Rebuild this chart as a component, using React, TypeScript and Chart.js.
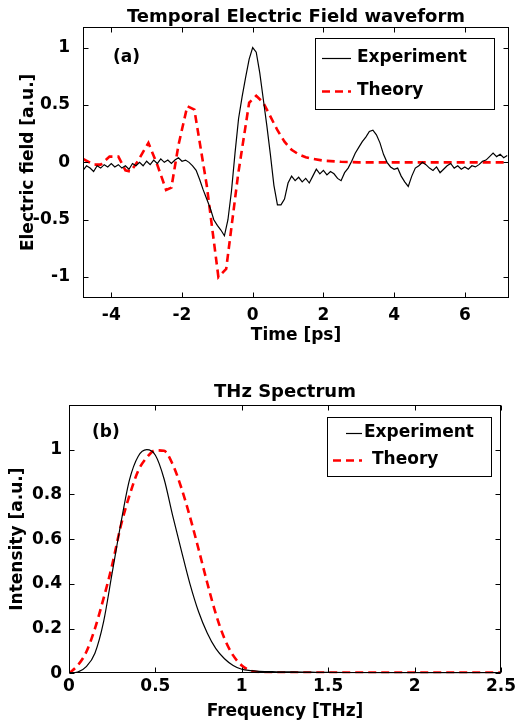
import React, { useEffect, useRef } from "react";
import { Chart, registerables } from "chart.js";

Chart.register(...registerables);

const FONT = "'DejaVu Sans', sans-serif";

// ---- Panel (a): temporal waveform ----
const timePs = [
  -4.8, -4.7, -4.6, -4.5, -4.4, -4.3, -4.2, -4.1, -4.0, -3.9,
  -3.8, -3.7, -3.6, -3.5, -3.4, -3.3, -3.2, -3.1, -3.0, -2.9,
  -2.8, -2.7, -2.6, -2.5, -2.4, -2.3, -2.2, -2.1, -2.0, -1.9,
  -1.8, -1.7, -1.6, -1.5, -1.4, -1.3, -1.2, -1.1, -1.0, -0.9,
  -0.8, -0.7, -0.6, -0.5, -0.4, -0.3, -0.2, -0.1, 0.0, 0.1,
  0.2, 0.3, 0.4, 0.5, 0.6, 0.7, 0.8, 0.9, 1.0, 1.1,
  1.2, 1.3, 1.4, 1.5, 1.6, 1.7, 1.8, 1.9, 2.0, 2.1,
  2.2, 2.3, 2.4, 2.5, 2.6, 2.7, 2.8, 2.9, 3.0, 3.1,
  3.2, 3.3, 3.4, 3.5, 3.6, 3.7, 3.8, 3.9, 4.0, 4.1,
  4.2, 4.3, 4.4, 4.5, 4.6, 4.7, 4.8, 4.9, 5.0, 5.1,
  5.2, 5.3, 5.4, 5.5, 5.6, 5.7, 5.8, 5.9, 6.0, 6.1,
  6.2, 6.3, 6.4, 6.5, 6.6, 6.7, 6.8, 6.9, 7.0, 7.1, 7.2,
];
const fieldExperiment = [
  -0.07, -0.03, -0.05, -0.08, -0.03, -0.05, -0.02, -0.04, -0.01, -0.04,
  -0.02, -0.05, -0.03, -0.06, -0.01, -0.03, 0.0, -0.03, 0.01, -0.02,
  0.02, -0.01, 0.03, 0.0, 0.02, -0.01, 0.02, 0.04, 0.01, 0.02,
  0.0, -0.03, -0.07, -0.15, -0.24, -0.32, -0.4, -0.5, -0.55, -0.59,
  -0.64, -0.5, -0.25, 0.08, 0.38, 0.57, 0.74, 0.9, 1.0, 0.96,
  0.78, 0.55, 0.32, 0.07, -0.2, -0.37, -0.37, -0.32, -0.18, -0.12,
  -0.16, -0.13, -0.17, -0.14, -0.18, -0.12, -0.06, -0.1, -0.07, -0.11,
  -0.08, -0.1, -0.14, -0.16, -0.09, -0.05, 0.01, 0.08, 0.13, 0.18,
  0.22, 0.27, 0.28, 0.24, 0.17, 0.07, 0.0, -0.04, -0.06, -0.05,
  -0.12, -0.17, -0.21, -0.12, -0.05, -0.03, 0.0, -0.02, -0.05, -0.07,
  -0.04, -0.09, -0.06, -0.03, -0.01, -0.05, -0.03, -0.06, -0.04, -0.06,
  -0.03, -0.04, -0.02, 0.01, 0.02, 0.05, 0.08, 0.05, 0.07, 0.04, 0.06,
];
const theoryTimePs = [
  -4.8, -4.5, -4.3, -4.05, -3.8, -3.6, -3.45, -3.25, -2.95, -2.7,
  -2.45, -2.3, -2.1, -1.85, -1.65, -1.3, -0.97, -0.75, -0.41, -0.1,
  0.1, 0.3, 0.5, 0.7, 0.9, 1.1, 1.3, 1.5, 1.7, 2.0,
  2.5, 3.0, 4.0, 5.0, 6.0, 7.25,
];
const fieldTheory = [
  0.03, -0.02, -0.02, 0.05, 0.05, -0.07, -0.08, 0.01, 0.17, -0.02,
  -0.24, -0.22, 0.15, 0.49, 0.46, -0.2, -1.0, -0.93, -0.1, 0.52,
  0.58, 0.52, 0.4, 0.28, 0.18, 0.11, 0.07, 0.045, 0.03, 0.015,
  0.005, 0.0, 0.0, 0.0, 0.0, 0.0,
];
const timeTicks = [-4, -2, 0, 2, 4, 6];
const timeTickLabels = ["-4", "-2", "0", "2", "4", "6"];
const fieldTicks = [-1, -0.5, 0, 0.5, 1];
const fieldTickLabels = ["-1", "-0.5", "0", "0.5", "1"];

// ---- Panel (b): spectrum ----
const freqTHz = [
  0, 0.05, 0.1, 0.15, 0.2, 0.25, 0.3, 0.35, 0.4, 0.45,
  0.5, 0.55, 0.6, 0.65, 0.7, 0.75, 0.8, 0.85, 0.9, 0.95,
  1.0, 1.05, 1.1, 1.2, 1.3, 1.4, 1.5, 1.75, 2.0, 2.25, 2.5,
];
const spectrumExperiment = [
  0, 0.005, 0.03, 0.09, 0.23, 0.45, 0.67, 0.865, 0.97, 1.0,
  0.975, 0.87, 0.705, 0.55, 0.4, 0.275, 0.18, 0.11, 0.065, 0.035,
  0.018, 0.012, 0.009, 0.007, 0.006, 0.005, 0.004, 0.002, 0.001, 0.001, 0.001,
];
const spectrumTheory = [
  0, 0.035, 0.095, 0.2, 0.335, 0.485, 0.66, 0.795, 0.905, 0.965,
  0.997, 0.995, 0.935, 0.83, 0.7, 0.555, 0.405, 0.265, 0.155, 0.08,
  0.035, 0.012, 0.005, 0.003, 0.003, 0.003, 0.003, 0.003, 0.003, 0.003, 0.003,
];
const freqTicks = [0, 0.5, 1, 1.5, 2, 2.5];
const freqTickLabels = ["0", "0.5", "1", "1.5", "2", "2.5"];
const intensityTicks = [0, 0.2, 0.4, 0.6, 0.8, 1];
const intensityTickLabels = ["0", "0.2", "0.4", "0.6", "0.8", "1"];

const RED = "#ff0000";
const DASH = [8, 5];

type LegendRow = { label: string; color: string; width: number; dash: number[]; x0: number; x1: number; tx: number; y: number };
type Deco = {
  title: string;
  titleY: number;
  panel: string;
  panelX: number;
  panelY: number;
  box: [number, number, number, number];
  rows: LegendRow[];
};

function matlabPlugin(d: Deco) {
  return {
    id: "matlabDeco",
    afterDatasetsDraw(chart: any) {
      const { ctx, chartArea: a, scales } = chart;
      const L = Math.round(a.left) + 0.5;
      const R = Math.round(a.right) - 0.5;
      const T = Math.round(a.top) + 0.5;
      const B = Math.round(a.bottom) - 0.5;
      ctx.save();
      ctx.strokeStyle = "#000";
      ctx.lineWidth = 1;
      ctx.setLineDash([]);
      ctx.strokeRect(L, T, R - L, B - T);
      const tl = 5;
      ctx.beginPath();
      for (const t of scales.x.ticks) {
        const p = Math.round(scales.x.getPixelForValue(t.value)) + 0.5;
        ctx.moveTo(p, B);
        ctx.lineTo(p, B - tl);
        ctx.moveTo(p, T);
        ctx.lineTo(p, T + tl);
      }
      for (const t of scales.y.ticks) {
        const p = Math.round(scales.y.getPixelForValue(t.value)) + 0.5;
        ctx.moveTo(L, p);
        ctx.lineTo(L + tl, p);
        ctx.moveTo(R, p);
        ctx.lineTo(R - tl, p);
      }
      ctx.stroke();

      // title
      ctx.fillStyle = "#000";
      ctx.font = `bold 18px ${FONT}`;
      ctx.textAlign = "center";
      ctx.textBaseline = "middle";
      ctx.fillText(d.title, (a.left + a.right) / 2, d.titleY);

      // panel label
      ctx.font = `bold 17px ${FONT}`;
      ctx.textAlign = "left";
      ctx.fillText(d.panel, d.panelX, d.panelY);

      // legend
      const [x0, y0, x1, y1] = d.box;
      ctx.fillStyle = "#fff";
      ctx.fillRect(x0, y0, x1 - x0, y1 - y0);
      ctx.strokeStyle = "#000";
      ctx.lineWidth = 1;
      ctx.strokeRect(x0 + 0.5, y0 + 0.5, x1 - x0, y1 - y0);
      for (const r of d.rows) {
        ctx.save();
        ctx.strokeStyle = r.color;
        ctx.lineWidth = r.width;
        ctx.setLineDash(r.dash);
        ctx.beginPath();
        ctx.moveTo(r.x0, r.y + 0.5);
        ctx.lineTo(r.x1, r.y + 0.5);
        ctx.stroke();
        ctx.restore();
        ctx.fillStyle = "#000";
        ctx.font = `bold 17px ${FONT}`;
        ctx.textAlign = "left";
        ctx.textBaseline = "middle";
        ctx.fillText(r.label, r.tx, r.y);
      }
      ctx.restore();
    },
  };
}

type PanelProps = {
  width: number;
  height: number;
  top: number;
  padding: { top: number; right: number; left: number; bottom: number };
  yWidth: number;
  xHeight: number;
  xMin: number;
  xMax: number;
  yMin: number;
  yMax: number;
  xTicks: number[];
  xTickLabels: string[];
  yTicks: number[];
  yTickLabels: string[];
  xTitle: string;
  yTitle: string;
  xTickPad: number;
  yTickPad: number;
  xTitlePad: number;
  yTitlePad: number;
  expX: number[];
  expY: number[];
  thX: number[];
  thY: number[];
  smooth: boolean;
  deco: Deco;
};

function Panel(p: PanelProps) {
  const ref = useRef<HTMLCanvasElement | null>(null);
  useEffect(() => {
    if (!ref.current) return;
    const tickFont = { family: FONT, size: 17, weight: "bold" as const };
    const chart = new Chart(ref.current, {
      type: "scatter",
      data: {
        datasets: [
          {
            label: "Experiment",
            data: p.expX.map((x, i) => ({ x, y: p.expY[i] })),
            showLine: true,
            borderColor: "#000",
            borderWidth: 1.2,
            pointRadius: 0,
            cubicInterpolationMode: p.smooth ? "monotone" : "default",
            tension: 0,
          },
          {
            label: "Theory",
            data: p.thX.map((x, i) => ({ x, y: p.thY[i] })),
            showLine: true,
            borderColor: RED,
            borderWidth: 2.6,
            borderDash: DASH,
            pointRadius: 0,
            cubicInterpolationMode: p.smooth ? "monotone" : "default",
            tension: 0,
          },
        ],
      },
      options: {
        animation: false,
        responsive: false,
        devicePixelRatio: 1,
        layout: { padding: p.padding },
        plugins: {
          legend: { display: false },
          tooltip: { enabled: false },
          title: { display: false },
        },
        scales: {
          x: {
            type: "linear",
            min: p.xMin,
            max: p.xMax,
            grid: { display: false, drawTicks: false },
            border: { display: false },
            afterBuildTicks: (s: any) => {
              s.ticks = p.xTicks.map((v) => ({ value: v }));
            },
            afterFit: (s: any) => {
              s.height = p.xHeight;
            },
            ticks: {
              color: "#000",
              font: tickFont,
              padding: p.xTickPad,
              maxRotation: 0,
              autoSkip: false,
              callback: (_v: any, i: number) => p.xTickLabels[i],
            },
            title: {
              display: true,
              text: p.xTitle,
              color: "#000",
              font: tickFont,
              padding: { top: 0, bottom: p.xTitlePad },
            },
          },
          y: {
            type: "linear",
            min: p.yMin,
            max: p.yMax,
            grid: { display: false, drawTicks: false },
            border: { display: false },
            afterBuildTicks: (s: any) => {
              s.ticks = p.yTicks.map((v) => ({ value: v }));
            },
            afterFit: (s: any) => {
              s.width = p.yWidth;
            },
            ticks: {
              color: "#000",
              font: tickFont,
              padding: p.yTickPad,
              autoSkip: false,
              callback: (_v: any, i: number) => p.yTickLabels[i],
            },
            title: {
              display: true,
              text: p.yTitle,
              color: "#000",
              font: tickFont,
              padding: { top: p.yTitlePad, bottom: 0 },
            },
          },
        },
      },
      plugins: [matlabPlugin(p.deco)],
    } as any);
    return () => chart.destroy();
  }, []);
  return (
    <canvas
      ref={ref}
      width={p.width}
      height={p.height}
      style={{ position: "absolute", left: 0, top: p.top, width: p.width, height: p.height }}
    />
  );
}

export default function App() {
  return (
    <div style={{ position: "absolute", left: 0, top: 0, width: 519, height: 725, background: "#fff" }}>
      <Panel
        width={519}
        height={350}
        top={0}
        padding={{ top: 27, right: 10, left: 0, bottom: 0 }}
        yWidth={83}
        xHeight={52.3}
        xMin={-4.8}
        xMax={7.25}
        yMin={-1.18}
        yMax={1.18}
        xTicks={timeTicks}
        xTickLabels={timeTickLabels}
        yTicks={fieldTicks}
        yTickLabels={fieldTickLabels}
        xTitle="Time [ps]"
        yTitle="Electric field [a.u.]"
        xTickPad={8}
        yTickPad={13}
        xTitlePad={4}
        yTitlePad={18}
        expX={timePs}
        expY={fieldExperiment}
        thX={theoryTimePs}
        thY={fieldTheory}
        smooth={false}
        deco={{
          title: "Temporal Electric Field waveform",
          titleY: 17,
          panel: "(a)",
          panelX: 113,
          panelY: 58,
          box: [315, 38, 494, 109],
          rows: [
            { label: "Experiment", color: "#000", width: 1.2, dash: [], x0: 322, x1: 351, tx: 357, y: 58 },
            { label: "Theory", color: RED, width: 2.6, dash: DASH, x0: 322, x1: 351, tx: 357, y: 91 },
          ],
        }}
      />
      <Panel
        width={519}
        height={355}
        top={370}
        padding={{ top: 35, right: 14.7, left: 0, bottom: 0 }}
        yWidth={69}
        xHeight={51.7}
        xMin={0}
        xMax={2.5}
        yMin={0}
        yMax={1.2}
        xTicks={freqTicks}
        xTickLabels={freqTickLabels}
        yTicks={intensityTicks}
        yTickLabels={intensityTickLabels}
        xTitle="Frequency [THz]"
        yTitle="Intensity [a.u.]"
        xTickPad={3}
        yTickPad={7}
        xTitlePad={3}
        yTitlePad={7}
        expX={freqTHz}
        expY={spectrumExperiment}
        thX={freqTHz}
        thY={spectrumTheory}
        smooth={true}
        deco={{
          title: "THz Spectrum",
          titleY: 22.5,
          panel: "(b)",
          panelX: 92,
          panelY: 63,
          box: [327, 47, 491, 106],
          rows: [
            { label: "Experiment", color: "#000", width: 1.2, dash: [], x0: 346, x1: 362, tx: 364, y: 63 },
            { label: "Theory", color: RED, width: 2.6, dash: DASH, x0: 333, x1: 362, tx: 372, y: 90 },
          ],
        }}
      />
    </div>
  );
}
